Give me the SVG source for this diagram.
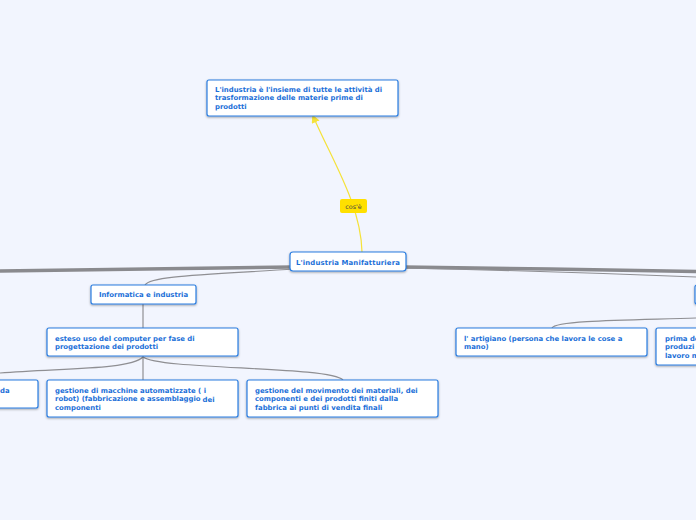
<svg xmlns="http://www.w3.org/2000/svg" width="696" height="520" viewBox="0 0 696 520">
<defs>
<filter id="sh" x="-10%" y="-20%" width="120%" height="150%"><feDropShadow dx="0" dy="1" stdDeviation="0.8" flood-color="#000" flood-opacity="0.35"/></filter>
<marker id="ah" viewBox="0 0 10 10" refX="8" refY="5" markerWidth="7" markerHeight="7" orient="auto-start-reverse"><path d="M0,0 L10,5 L0,10 z" fill="#f5e23a"/></marker>
</defs>
<style>
.bx{fill:#fff;stroke:#2b7de0;stroke-width:1.2;filter:url(#sh)}
.t{font-family:"DejaVu Sans",Verdana,sans-serif;font-weight:bold;font-size:6.9px;fill:#1b6fd8}
.thick{fill:none;stroke:#8a8a8e;stroke-width:3.5}
.thin{fill:none;stroke:#8f8f93;stroke-width:1.2}
</style>
<rect width="696" height="520" fill="#f2f5fe"/>
<g id="connectors">
<path class="thick" d="M292,267 C200,268 100,270 0,271"/>
<path class="thick" d="M404,267 C500,268 600,270 696,271.5"/>
<path class="thin" d="M404,268 C500,270 600,273 696,277"/>
<path class="thin" d="M295,269 C200,275 150,276 145,285"/>
<path class="thin" d="M143,304 L143,328"/>
<path class="thin" d="M143,356 L143,380"/>
<path class="thin" d="M143,357 C130,370 60,368 0,373"/>
<path class="thin" d="M143,357 C160,370 330,366 343,380"/>
<path class="thin" d="M552,328 C555,320 640,320 696,318"/>
<path d="M362,252 C361,205 332,160 313,116" fill="none" stroke="#f5e23a" stroke-width="1.2" marker-end="url(#ah)"/>
</g>
<g id="label-cose">
<rect x="340" y="199" width="27" height="14" rx="2" fill="#ffe000"/>
<text x="353.5" y="208.5" text-anchor="middle" font-family="DejaVu Sans,sans-serif" font-size="6.4" fill="#444">cos'è</text>
</g>
<g id="n-def">
<rect class="bx" x="207" y="80" width="191" height="36" rx="2"/>
<text class="t"><tspan x="215" y="91.5">L'industria è l'insieme di tutte le attività di</tspan><tspan x="215" y="100">trasformazione delle materie prime di</tspan><tspan x="215" y="108.5">prodotti</tspan></text>
</g>
<g id="n-root">
<rect class="bx" x="290" y="252" width="116" height="19" rx="3"/>
<text class="t" x="348" y="264.5" text-anchor="middle" font-size="7px" letter-spacing="0.15">L'industria Manifatturiera</text>
</g>
<g id="n-info">
<rect class="bx" x="91" y="285" width="105" height="19" rx="2"/>
<text class="t" x="143.5" y="297" text-anchor="middle">Informatica e industria</text>
</g>
<g id="n-esteso">
<rect class="bx" x="47" y="328" width="191" height="28" rx="2"/>
<text class="t"><tspan x="55" y="340.5">esteso uso del computer per fase di</tspan><tspan x="55" y="349">progettazione dei prodotti</tspan></text>
</g>
<g id="n-left">
<rect class="bx" x="-60" y="380" width="98" height="28" rx="2"/>
<text class="t" x="0" y="392.5">da</text>
</g>
<g id="n-macchine">
<rect class="bx" x="47" y="380" width="191" height="37" rx="2"/>
<text class="t"><tspan x="55" y="392.5">gestione di macchine automatizzate ( i</tspan><tspan x="55" y="401">robot) (fabbricazione e assemblaggio</tspan><tspan dx="2" dy="1">dei</tspan><tspan x="55" y="409.5">componenti</tspan></text>
</g>
<g id="n-movimento">
<rect class="bx" x="247" y="380" width="191" height="37" rx="2"/>
<text class="t"><tspan x="255" y="392.5">gestione del movimento dei materiali, dei</tspan><tspan x="255" y="401">componenti e dei prodotti finiti dalla</tspan><tspan x="255" y="409.5">fabbrica ai punti di vendita finali</tspan></text>
</g>
<g id="n-artigiano">
<rect class="bx" x="456" y="328" width="191" height="28" rx="2"/>
<text class="t"><tspan x="464" y="340.5">l' artigiano (persona che lavora le cose a</tspan><tspan x="464" y="349">mano)</tspan></text>
</g>
<g id="n-prima">
<rect class="bx" x="656" y="328" width="100" height="37" rx="2"/>
<text class="t"><tspan x="665" y="340.5">prima de</tspan><tspan x="665" y="349">produzi</tspan><tspan x="665" y="357.5">lavoro m</tspan></text>
</g>
<g id="n-right">
<rect class="bx" x="695" y="285" width="100" height="19" rx="2"/>
</g>
</svg>
